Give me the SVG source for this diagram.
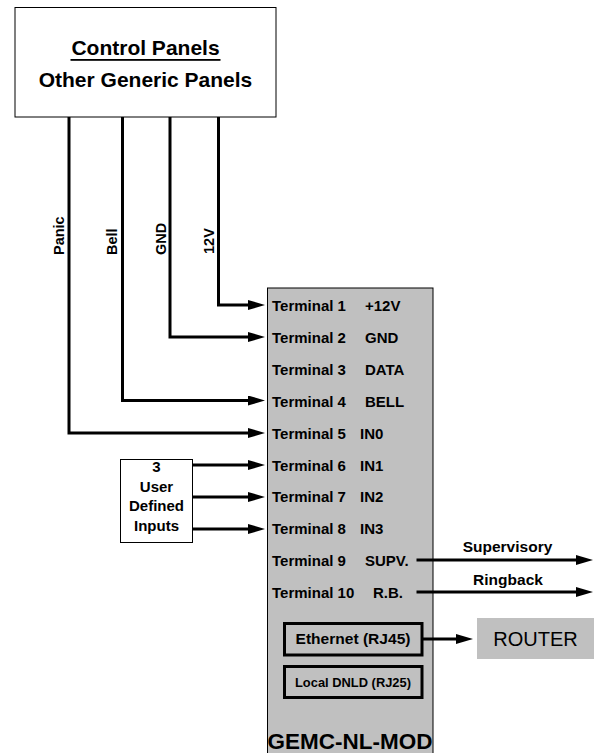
<svg xmlns="http://www.w3.org/2000/svg" width="606" height="753" viewBox="0 0 606 753">
<style>
text{font-family:"Liberation Sans",Arial,sans-serif;fill:#000;font-weight:bold}
.box{fill:#fff;stroke:#000;stroke-width:1}
.gray{fill:#c0c0c0;stroke:#000;stroke-width:1}
.wire{fill:none;stroke:#000;stroke-width:3;stroke-linejoin:miter}
.arr{marker-end:url(#ah)}
.term{font-size:15px}
.lbl{font-size:14.5px}
.port{fill:none;stroke:#000;stroke-width:3}
</style>
<defs>
<marker id="ah" markerUnits="userSpaceOnUse" markerWidth="17" markerHeight="10" refX="0" refY="5" orient="auto">
<path d="M0,0 L17,5 L0,10 z" fill="#000"/>
</marker>
</defs>

<g id="control-panels">
<rect class="box" x="15" y="7.5" width="261" height="109.5"/>
<text x="145.5" y="55" font-size="21" text-anchor="middle">Control Panels</text>
<rect x="70.5" y="59" width="150" height="1.8" fill="#000"/>
<text x="145.5" y="86.5" font-size="21" text-anchor="middle">Other Generic Panels</text>
</g>

<g id="module">
<rect class="gray" x="267.5" y="288" width="165.5" height="470"/>
<g class="term">
<text x="272" y="311">Terminal 1</text><text x="365" y="311">+12V</text>
<text x="272" y="343">Terminal 2</text><text x="365" y="343">GND</text>
<text x="272" y="375">Terminal 3</text><text x="365" y="375">DATA</text>
<text x="272" y="406.5">Terminal 4</text><text x="365" y="406.5">BELL</text>
<text x="272" y="438.5">Terminal 5</text><text x="360" y="438.5">IN0</text>
<text x="272" y="470.5">Terminal 6</text><text x="360" y="470.5">IN1</text>
<text x="272" y="502">Terminal 7</text><text x="360" y="502">IN2</text>
<text x="272" y="534">Terminal 8</text><text x="360" y="534">IN3</text>
<text x="272" y="565.5">Terminal 9</text><text x="365" y="565.5">SUPV.</text>
<text x="272" y="597.5">Terminal 10</text><text x="373" y="597.5">R.B.</text>
</g>
<text x="350" y="749" font-size="22.5" text-anchor="middle">GEMC-NL-MOD</text>
</g>

<g id="ethernet">
<rect class="port" x="284.5" y="623.5" width="137.5" height="31.5"/>
<text x="353" y="644" font-size="15" text-anchor="middle" textLength="115" lengthAdjust="spacingAndGlyphs">Ethernet (RJ45)</text>
</g>

<g id="local-dnld">
<rect class="port" x="284.5" y="666.5" width="137.5" height="31"/>
<text x="353" y="687" font-size="13.5" text-anchor="middle" textLength="116" lengthAdjust="spacingAndGlyphs">Local DNLD (RJ25)</text>
</g>

<g id="user-inputs">
<rect class="box" x="120.5" y="459.5" width="72" height="83"/>
<g font-size="15" text-anchor="middle">
<text x="156.5" y="472">3</text>
<text x="156.5" y="491.5">User</text>
<text x="156.5" y="511">Defined</text>
<text x="156.5" y="530.5">Inputs</text>
</g>
</g>

<g id="router">
<rect x="477" y="618" width="117" height="41" fill="#c0c0c0"/>
<text x="535.5" y="646" font-size="20" style="font-weight:normal" text-anchor="middle">ROUTER</text>
</g>

<g id="connectors">
<path class="wire arr" d="M218.5,117 V305 H248"/>
<path class="wire arr" d="M170,117 V337 H248"/>
<path class="wire arr" d="M122.5,117 V400.5 H248"/>
<path class="wire arr" d="M69,117 V433 H248"/>
<path class="wire arr" d="M192.5,465 H248"/>
<path class="wire arr" d="M192.5,497 H248"/>
<path class="wire arr" d="M192.5,529 H248"/>
<path class="wire arr" d="M416.5,560 H576"/>
<path class="wire arr" d="M416.5,592 H576"/>
<path class="wire arr" d="M422,639 H456"/>
</g>

<g id="connector-labels" class="lbl">
<text transform="translate(64,255) rotate(-90)">Panic</text>
<text transform="translate(117,255) rotate(-90)">Bell</text>
<text transform="translate(165.5,255) rotate(-90)">GND</text>
<text transform="translate(213.5,254) rotate(-90)">12V</text>
<text x="507.5" y="552" font-size="15.5" text-anchor="middle">Supervisory</text>
<text x="508" y="585" font-size="15.5" text-anchor="middle">Ringback</text>
</g>
</svg>
